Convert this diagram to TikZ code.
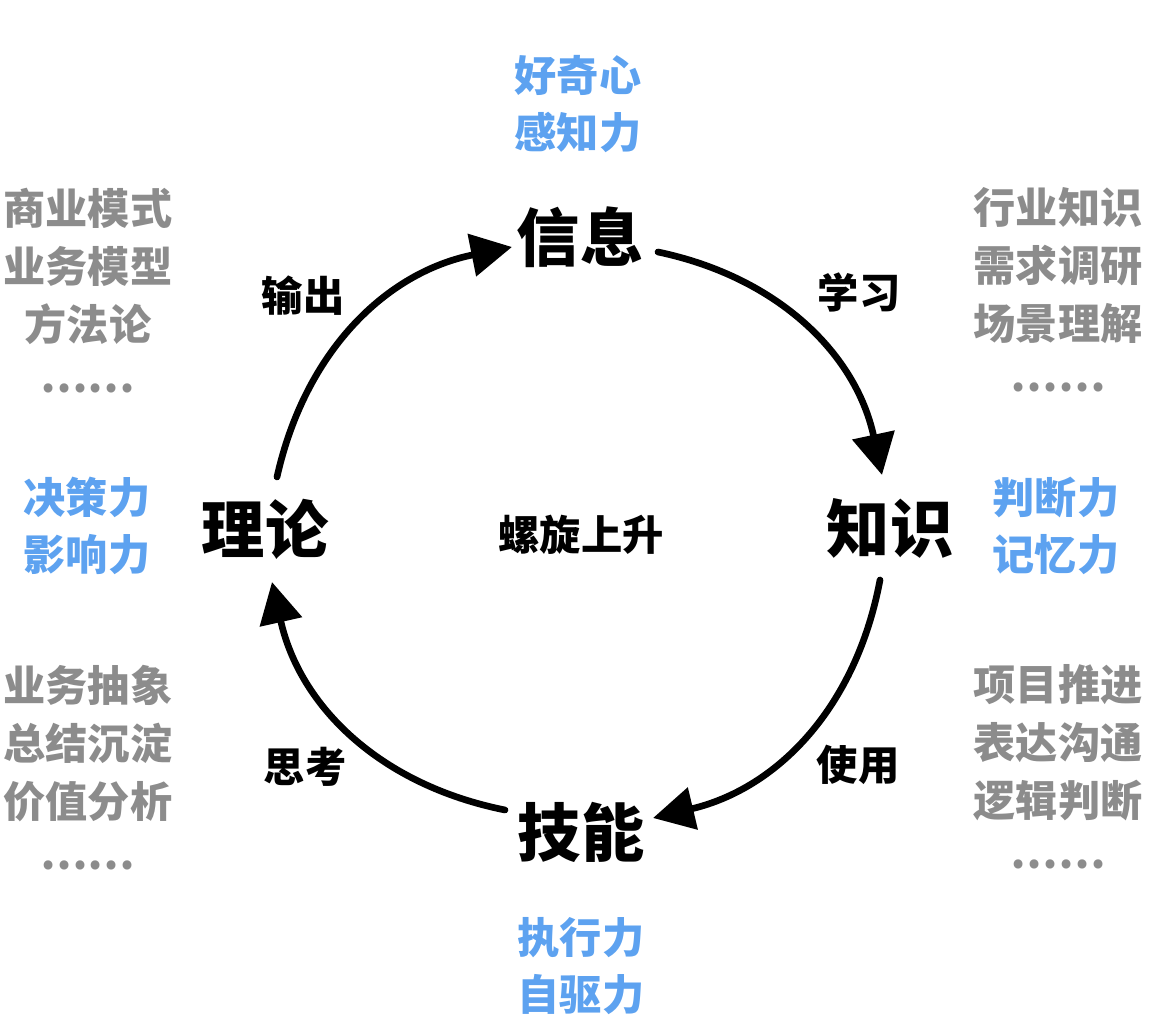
\documentclass[tikz,border=0pt]{standalone}
\usepackage{fontspec}
\setmainfont{Noto Sans CJK SC}
\usetikzlibrary{arrows.meta}
\definecolor{skyblue}{HTML}{5DA2F0}
\definecolor{softgray}{HTML}{8C8C8C}
\newcommand{\moredots}{\raisebox{0.15em}{……}}

\begin{document}
\begin{tikzpicture}[
	big/.style={font=\fontsize{36}{40}\selectfont\bfseries},
	word/.style={font=\fontsize{23.5}{28}\selectfont\bfseries},
	ability/.style={align=center, text=skyblue, font=\fontsize{24}{32.7}\selectfont\bfseries},
	topic/.style={align=center, text=softgray, font=\fontsize{24}{33}\selectfont\bfseries},
	flow/.style={line width=3.8pt, line cap=round, -{Triangle[length=0.82cm, width=0.84cm]}, bend left=33}]
	\useasboundingbox (0, 0) rectangle (23.32, 20.44);
	% the four stages
	\node[big] (xinxi) at (11.6, 15.70) {信息};
	\node[big] (zhishi) at (17.8, 9.88) {知识};
	\node[big] (jineng) at (11.62, 3.80) {技能};
	\node[big] (lilun) at (5.30, 9.86) {理论};
	\node[word] (luoxuan) at (11.62, 9.74) {螺旋上升};
	% labels on the arcs
	\node[word] (shuchu) at (6.06, 14.52) {输出};
	\node[word] (xuexi) at (17.18, 14.60) {学习};
	\node[word] (sikao) at (6.10, 5.10) {思考};
	\node[word] (shiyong) at (17.16, 5.14) {使用};
	% abilities
	\node[ability] (haoqi) at (11.56, 18.36) {好奇心\\感知力};
	\node[ability] (zhixing) at (11.62, 1.12) {执行力\\自驱力};
	\node[ability] (juece) at (1.74, 9.92) {决策力\\影响力};
	\node[ability] (panduan) at (21.12, 9.92) {判断力\\记忆力};
	% topics
	\node[topic] (shangye) at (1.76, 14.57) {商业模式\\业务模型\\方法论\\\moredots};
	\node[topic] (hangye) at (21.16, 14.59) {行业知识\\需求调研\\场景理解\\\moredots};
	\node[topic] (chouxiang) at (1.76, 5.03) {业务抽象\\总结沉淀\\价值分析\\\moredots};
	\node[topic] (xiangmu) at (21.16, 5.05) {项目推进\\表达沟通\\逻辑判断\\\moredots};
	% arc ends
	\coordinate (p1) at (5.54, 10.90);
	\coordinate (p2) at (10.24, 15.50);
	\coordinate (p3) at (13.16, 15.40);
	\coordinate (p4) at (17.64, 10.94);
	\coordinate (p5) at (17.60, 8.84);
	\coordinate (p6) at (13.06, 4.08);
	\coordinate (p7) at (10.10, 4.24);
	\coordinate (p8) at (5.44, 8.80);
	\draw[flow] (p1) to (p2);
	\draw[flow] (p3) to (p4);
	\draw[flow] (p5) to (p6);
	\draw[flow] (p7) to (p8);
\end{tikzpicture}
\end{document}
